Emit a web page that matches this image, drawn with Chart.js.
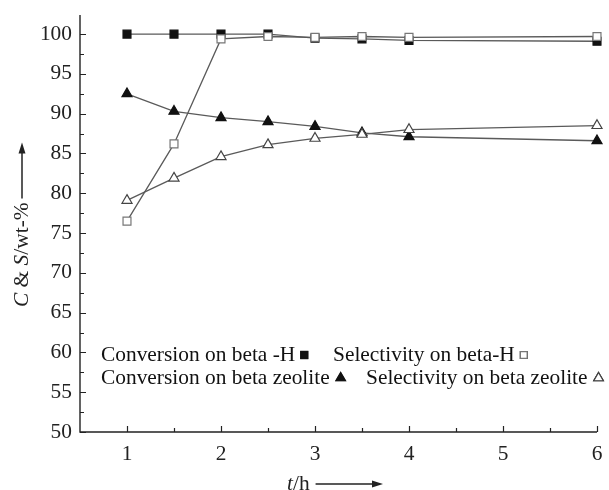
<!DOCTYPE html>
<html>
<head>
<meta charset="utf-8">
<script src="https://cdn.jsdelivr.net/npm/chart.js@4.4.1/dist/chart.umd.min.js"></script>
<style>
  html, body { margin:0; padding:0; background:#fff; }
  #wrap { width:609px; height:490px; }
</style>
</head>
<body>
<div id="wrap"><canvas id="grafico" width="609" height="490"></canvas></div>
<script>
// tempo de reação (h) e resultados (%)
const tempos   = [1, 1.5, 2, 2.5, 3, 3.5, 4, 6];
const convH    = [100, 100, 100, 100, 99.5, 99.4, 99.2, 99.1];
const selH     = [76.5, 86.2, 99.4, 99.7, 99.6, 99.7, 99.6, 99.7];
const convZeo  = [92.5, 90.3, 89.5, 89.0, 88.4, 87.6, 87.1, 86.6];
const selZeo   = [79.1, 81.9, 84.6, 86.1, 86.9, 87.4, 88.0, 88.5];

const xTicks = [1, 2, 3, 4, 5, 6];
const yTicks = [50, 55, 60, 65, 70, 75, 80, 85, 90, 95, 100];

const legendas = [
  ['Conversion on beta -H', 'Selectivity on beta-H'],
  ['Conversion on beta zeolite', 'Selectivity on beta zeolite']
];

const FONTE = "'Liberation Serif', 'Times New Roman', serif";
const TAM = 21.4;
const COR_LINHA = '#5a5a5a';

function pares(ys) { return tempos.map((t, i) => ({ x: t, y: ys[i] })); }

const estilos = {
  quadCheio: { pointStyle:'rect',     backgroundColor:'#111', borderColor:'#111' },
  quadVazio: { pointStyle:'rect',     backgroundColor:'#fff', borderColor:'#777' },
  triCheio:  { pointStyle:'triangle', backgroundColor:'#111', borderColor:'#111' },
  triVazio:  { pointStyle:'triangle', backgroundColor:'#fff', borderColor:'#444' },
};

function serie(label, ys, est, ordem, raio) {
  return {
    label, data: pares(ys), order: ordem, clip: false,
    borderColor: COR_LINHA, borderWidth: 1.3,
    pointStyle: est.pointStyle, pointRadius: raio, pointHoverRadius: raio,
    pointBackgroundColor: est.backgroundColor, pointBorderColor: est.borderColor,
    pointBorderWidth: 1.2, tension: 0
  };
}

// seta simples (linha + ponta cheia) no sistema atual do contexto
function seta(ctx, x0, y0, x1, y1) {
  const ang = Math.atan2(y1 - y0, x1 - x0);
  ctx.beginPath();
  ctx.moveTo(x0, y0);
  ctx.lineTo(x1 - 8 * Math.cos(ang), y1 - 8 * Math.sin(ang));
  ctx.lineWidth = 1.5;
  ctx.stroke();
  ctx.beginPath();
  ctx.moveTo(x1, y1);
  ctx.lineTo(x1 - 11 * Math.cos(ang) + 3.5 * Math.sin(ang), y1 - 11 * Math.sin(ang) - 3.5 * Math.cos(ang));
  ctx.lineTo(x1 - 11 * Math.cos(ang) - 3.5 * Math.sin(ang), y1 - 11 * Math.sin(ang) + 3.5 * Math.cos(ang));
  ctx.closePath();
  ctx.fill();
}

// texto com trechos em itálico; devolve x final
function textoMisto(ctx, partes, x, y, tam) {
  partes.forEach(p => {
    ctx.font = (p.it ? 'italic ' : '') + tam + 'px ' + FONTE;
    ctx.fillText(p.t, x, y);
    x += ctx.measureText(p.t).width;
  });
  return x;
}

const eixosPlugin = {
  id: 'eixos',
  afterDraw(chart) {
    const { ctx, chartArea: a, scales: { x, y } } = chart;
    ctx.save();
    ctx.strokeStyle = '#222';
    ctx.fillStyle = '#222';
    ctx.lineWidth = 1.4;
    ctx.beginPath();
    ctx.moveTo(a.left, a.top); ctx.lineTo(a.left, a.bottom); ctx.lineTo(a.right, a.bottom);
    ctx.stroke();

    // marcas para dentro: principais e secundárias
    ctx.lineWidth = 1.2;
    ctx.beginPath();
    for (let v = 50; v <= 100; v += 2.5) {
      const py = Math.round(y.getPixelForValue(v)) + 0.5;
      const len = v % 5 === 0 ? 6 : 4;
      ctx.moveTo(a.left, py); ctx.lineTo(a.left + len, py);
    }
    for (let v = 1; v <= 6; v += 0.5) {
      const px = Math.round(x.getPixelForValue(v)) + 0.5;
      const len = v % 1 === 0 ? 6 : 4;
      ctx.moveTo(px, a.bottom); ctx.lineTo(px, a.bottom - len);
    }
    ctx.stroke();

    // título do eixo y (rotacionado)
    ctx.textBaseline = 'middle';
    ctx.textAlign = 'left';
    ctx.save();
    ctx.translate(22, 307);
    ctx.rotate(-Math.PI / 2);
    const fimY = textoMisto(ctx, [{ t:'C', it:true }, { t:' & ' }, { t:'S', it:true }, { t:'/wt-%' }], 0, 0, TAM);
    seta(ctx, fimY + 4, 0, fimY + 60, 0);
    ctx.restore();

    // título do eixo x
    const fimX = textoMisto(ctx, [{ t:'t', it:true }, { t:'/h' }], 287, 484, TAM);
    seta(ctx, fimX + 6, 484, 383, 484);

    // legenda em duas linhas
    const linhasY = [355, 378];
    const colX = [[101, 333], [101, 366]];
    const marcas = [[estilos.quadCheio, estilos.quadVazio], [estilos.triCheio, estilos.triVazio]];
    legendas.forEach((linha, i) => {
      linha.forEach((txt, j) => {
        ctx.fillStyle = '#111';
        ctx.font = TAM + 'px ' + FONTE;
        ctx.fillText(txt, colX[i][j], linhasY[i]);
        const w = ctx.measureText(txt).width;
        const m = marcas[i][j];
        const tri = m.pointStyle === 'triangle';
        Chart.helpers.drawPoint(ctx, {
          pointStyle: m.pointStyle, radius: tri ? 5.5 : 4.8, rotation: 0, borderWidth: 1.2
        }, colX[i][j] + w + (tri ? 11 : 9), linhasY[i]);
        ctx.fillStyle = m.backgroundColor;
        ctx.strokeStyle = m.borderColor;
        ctx.lineWidth = 1.2;
        ctx.fill();
        ctx.stroke();
      });
    });
    ctx.restore();
  }
};

new Chart(document.getElementById('grafico').getContext('2d'), {
  type: 'line',
  data: {
    datasets: [
      serie('Selectivity on beta zeolite', selZeo,  estilos.triVazio,  0, 5.8),
      serie('Selectivity on beta-H',       selH,    estilos.quadVazio, 1, 5.6),
      serie('Conversion on beta zeolite',  convZeo, estilos.triCheio,  2, 5.8),
      serie('Conversion on beta -H',       convH,   estilos.quadCheio, 3, 5.6),
    ]
  },
  options: {
    responsive: false, animation: false,
    layout: { padding: { top: 15, right: 12, left: 0, bottom: 0 } },
    plugins: { legend: { display:false }, tooltip: { enabled:false } },
    scales: {
      x: {
        type: 'linear', min: 0.5, max: 6,
        afterBuildTicks: s => { s.ticks = xTicks.map(v => ({ value: v })); },
        afterFit: s => { s.height = 58; s.paddingLeft = 0; s.paddingRight = 0; },
        grid: { display:false }, border: { display:false },
        ticks: { font: { family: FONTE, size: TAM }, color: '#222', padding: 2, maxRotation: 0 }
      },
      y: {
        type: 'linear', min: 50, max: 102.4,
        afterBuildTicks: s => { s.ticks = yTicks.map(v => ({ value: v })); },
        afterFit: s => { s.width = 80; s.paddingTop = 0; s.paddingBottom = 0; },
        grid: { display:false }, border: { display:false },
        ticks: { font: { family: FONTE, size: TAM }, color: '#222', padding: 0 }
      }
    }
  },
  plugins: [eixosPlugin]
});
</script>
</body>
</html>
